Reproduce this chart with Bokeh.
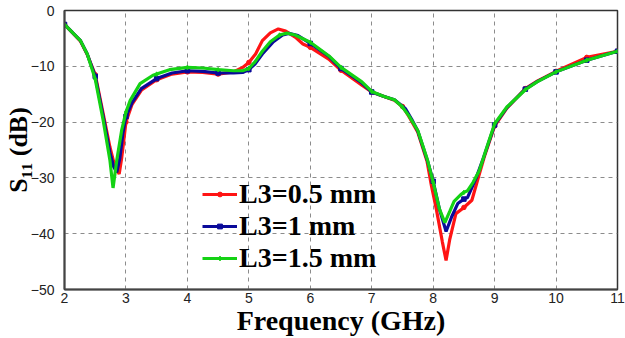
import numpy as np
from bokeh.plotting import figure
from bokeh.models import Range1d, FixedTicker, Legend, LegendItem
from bokeh.embed import file_html
from bokeh.resources import INLINE

# ---- data ----
x_ticks = [2, 3, 4, 5, 6, 7, 8, 9, 10, 11]
y_ticks = [0, -10, -20, -30, -40, -50]

red_f = [2.0, 2.26, 2.37, 2.5, 2.63, 2.74, 2.82, 2.89, 2.93, 2.97, 3.0, 3.1, 3.25, 3.5, 3.75,
         4.0, 4.25, 4.5, 4.75, 4.9, 5.0, 5.11, 5.22, 5.35, 5.48, 5.6, 5.76, 5.88, 6.0, 6.3,
         6.5, 6.84, 7.0, 7.2, 7.37, 7.5, 7.6, 7.75, 7.9, 7.97, 8.05, 8.15, 8.21, 8.27, 8.37,
         8.48, 8.5, 8.63, 8.72, 8.83, 9.0, 9.2, 9.5, 9.7, 10.0, 10.5, 11.0]
red_s = [-2.5, -5.5, -7.9, -11.5, -18.5, -24.5, -28.0, -29.3, -26.5, -22.8, -20.0, -16.8, -14.3, -12.4, -11.4,
         -11.0, -11.1, -11.4, -11.0, -10.2, -9.3, -7.8, -5.4, -4.0, -3.3, -3.7, -4.8, -6.0, -6.6, -8.7,
         -10.7, -13.4, -14.6, -15.4, -16.1, -17.2, -18.9, -21.8, -27.0, -31.3, -35.5, -41.5, -44.8, -41.0, -36.4,
         -35.5, -35.3, -34.0, -30.5, -26.3, -20.7, -17.5, -14.0, -12.6, -10.9, -8.4, -7.3]

blue_f = [2.0, 2.26, 2.37, 2.5, 2.63, 2.74, 2.8, 2.85, 2.9, 2.95, 3.0, 3.1, 3.25, 3.5, 3.75,
          4.0, 4.25, 4.5, 4.75, 4.9, 5.0, 5.1, 5.22, 5.4, 5.55, 5.65, 5.8, 6.0, 6.3, 6.5,
          6.84, 7.0, 7.2, 7.37, 7.55, 7.65, 7.75, 7.91, 8.0, 8.1, 8.21, 8.3, 8.4, 8.5, 8.56,
          8.7, 8.8, 9.0, 9.2, 9.5, 9.7, 10.0, 10.5, 11.0]
blue_s = [-2.5, -5.4, -7.8, -11.8, -19.0, -25.5, -28.0, -29.0, -26.5, -22.0, -19.0, -16.5, -14.0, -12.2, -11.2,
          -10.8, -10.9, -11.2, -11.2, -11.1, -10.6, -9.6, -7.8, -5.6, -4.4, -4.1, -4.5, -5.9, -8.2, -10.4,
          -13.0, -14.6, -15.4, -16.0, -17.6, -19.5, -21.6, -27.0, -30.6, -35.5, -39.6, -37.0, -34.6, -33.8, -33.5,
          -30.0, -27.0, -20.5, -17.4, -14.1, -12.7, -11.0, -8.9, -7.3]

green_f = [2.0, 2.26, 2.37, 2.5, 2.63, 2.74, 2.79, 2.85, 2.93, 3.0, 3.07, 3.23, 3.44, 3.5, 3.71,
           4.0, 4.25, 4.5, 4.75, 4.9, 5.0, 5.1, 5.22, 5.35, 5.5, 5.62, 5.75, 6.0, 6.3, 6.5,
           6.84, 7.0, 7.2, 7.37, 7.5, 7.6, 7.75, 7.91, 8.0, 8.1, 8.19, 8.27, 8.34, 8.45, 8.5,
           8.56, 8.65, 8.75, 8.91, 9.0, 9.2, 9.5, 9.69, 10.0, 10.5, 11.0]
green_s = [-2.5, -5.4, -7.8, -12.3, -19.7, -26.9, -31.8, -26.9, -21.5, -18.2, -16.1, -13.1, -11.6, -11.4, -10.6,
           -10.2, -10.3, -10.6, -10.8, -10.8, -10.4, -9.2, -7.3, -5.6, -4.4, -4.06, -4.4, -5.7, -8.1, -10.2,
           -12.8, -14.5, -15.4, -16.0, -17.3, -18.8, -21.5, -26.9, -30.8, -35.5, -38.0, -36.0, -34.2, -33.0, -32.6,
           -32.3, -30.8, -28.7, -23.3, -20.3, -17.3, -14.2, -12.8, -11.0, -8.9, -7.3]

series_labels = ["L3=0.5 mm", "L3=1 mm", "L3=1.5 mm"]
series_colors = ["#ff1414", "#0a0a9a", "#14d214"]
series_markers = ["circle", "square", "diamond"]
x_title = "Frequency (GHz)"
y_title = "S\u2081\u2081 (dB)"

# ---- figure ----
p = figure(width=625, height=338, output_backend="svg", toolbar_location=None,
           x_range=Range1d(2, 11), y_range=Range1d(-50, 0),
           min_border_left=64, min_border_right=8, min_border_top=10, min_border_bottom=49)

p.background_fill_color = None
p.border_fill_color = None
p.outline_line_color = "#333333"
p.outline_line_width = 1.5

for ax in (p.xaxis[0], p.yaxis[0]):
    ax.axis_line_color = "#444444"
    ax.axis_line_width = 2
    ax.major_tick_in = 0
    ax.major_tick_out = 0
    ax.minor_tick_in = 0
    ax.minor_tick_out = 0
    ax.major_label_text_font = "Liberation Sans"
    ax.major_label_text_font_size = "14px"
    ax.major_label_text_color = "#222222"

p.xaxis.ticker = FixedTicker(ticks=x_ticks)
p.yaxis.ticker = FixedTicker(ticks=y_ticks)
p.xaxis.major_label_standoff = 3
p.yaxis.major_label_standoff = 10

p.xaxis.axis_label = x_title
p.xaxis.axis_label_text_font = "Liberation Serif"
p.xaxis.axis_label_text_font_style = "bold"
p.xaxis.axis_label_text_font_size = "28px"
p.xaxis.axis_label_text_color = "black"
p.xaxis.axis_label_text_line_height = 1.0
p.xaxis.axis_label_standoff = -1

p.yaxis.axis_label = y_title
p.yaxis.axis_label_text_font = "Liberation Serif"
p.yaxis.axis_label_text_font_style = "bold"
p.yaxis.axis_label_text_font_size = "26px"
p.yaxis.axis_label_text_color = "black"
p.yaxis.axis_label_standoff = -5

p.xgrid[0].ticker = FixedTicker(ticks=x_ticks)
p.ygrid[0].ticker = FixedTicker(ticks=y_ticks)
for g in (p.xgrid[0], p.ygrid[0]):
    g.grid_line_color = "#8c8c8c"
    g.grid_line_alpha = 1.0
    g.grid_line_dash = "4 4"
    g.grid_line_width = 1

items = []
all_data = [(red_f, red_s), (blue_f, blue_s), (green_f, green_s)]
for (f, s), lab, col, mk in zip(all_data, series_labels, series_colors, series_markers):
    f = np.array(f)
    s = np.array(s)
    ln = p.line(f, s, line_color=col, line_width=3.2)
    sel = np.isclose((f * 2) % 1, 0) | np.isclose((f * 2) % 1, 1)
    sc = p.scatter(f[sel], s[sel], marker=mk, size=4.5, fill_color=col, line_color=col)
    items.append(LegendItem(label=lab, renderers=[ln, sc]))

legend = Legend(items=items, location=(138, 15))
legend.label_text_font = "Liberation Serif"
legend.label_text_font_style = "bold"
legend.label_text_font_size = "28px"
legend.label_text_color = "black"
legend.glyph_width = 35
legend.glyph_height = 12
legend.label_height = 32
legend.label_standoff = 2
legend.spacing = 0
legend.padding = 0
legend.margin = 0
legend.border_line_color = None
legend.background_fill_alpha = 0
p.add_layout(legend, "center")

open("out.html", "w").write(file_html(p, INLINE))
